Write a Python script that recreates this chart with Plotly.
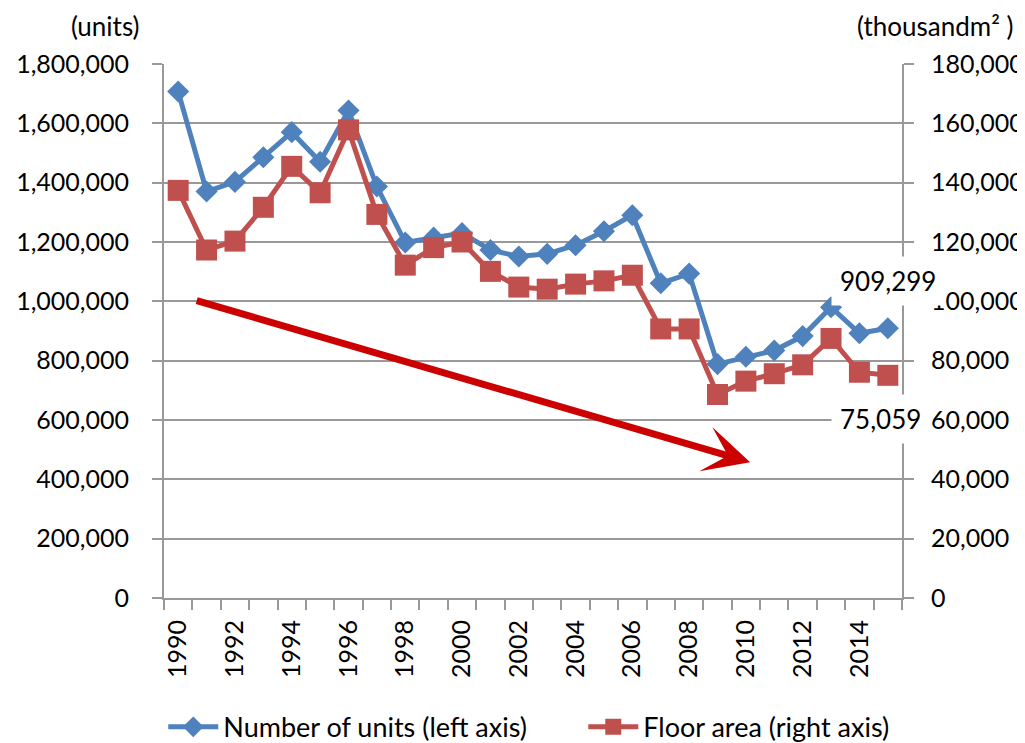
import plotly.graph_objects as go

YEARS = list(range(1990, 2016))
UNITS = [1707109, 1370126, 1402590, 1485684, 1570252, 1470330, 1643266, 1387014,
         1198295, 1214601, 1229843, 1173170, 1151016, 1160083, 1189049, 1236175,
         1290391, 1060741, 1093519, 788410, 813126, 834117, 882797, 980025,
         892261, 909299]
FLOOR_AREA = [137400, 117300, 120300, 131700, 145500, 136600, 157800, 129300,
              112200, 118100, 120000, 110100, 104800, 104100, 105800, 106900,
              108800, 90700, 90700, 68600, 73100, 75600, 78600, 87500,
              76100, 75059]
X_LABELS = list(range(1990, 2015, 2))

BLUE = "#4F81BD"
RED = "#C0504D"
GRID = "#999999"
FONT = "Lato, Open Sans, sans-serif"

fig = go.Figure()
fig.add_trace(go.Scatter(
    x=YEARS, y=UNITS, name="Number of units (left axis)", mode="lines+markers",
    line=dict(color=BLUE, width=5),
    marker=dict(symbol="diamond", size=17, color=BLUE),
))
fig.add_trace(go.Scatter(
    x=YEARS, y=FLOOR_AREA, name="Floor area (right axis)", mode="lines+markers",
    yaxis="y2",
    line=dict(color=RED, width=5),
    marker=dict(symbol="square", size=21, color=RED),
))

# downward trend arrow
fig.add_annotation(
    x=2010.15, y=458000, ax=1990.6, ay=1004000, xref="x", yref="y", axref="x", ayref="y",
    text="", showarrow=True, arrowhead=3, arrowsize=1.1, arrowwidth=7, arrowcolor="#CC0000",
    standoff=0,
)

# data labels for the last year
fig.add_annotation(
    x=YEARS[-1], y=UNITS[-1], xref="x", yref="y", text=f"{UNITS[-1]:,}",
    showarrow=False, yshift=47, bgcolor="white", borderpad=8,
    font=dict(family=FONT, size=26, color="black"),
)
fig.add_annotation(
    x=YEARS[-1], y=FLOOR_AREA[-1], xref="x", yref="y2", text=f"{FLOOR_AREA[-1]:,}",
    showarrow=False, yshift=-44, xshift=-7, bgcolor="white", borderpad=8,
    font=dict(family=FONT, size=26, color="black"),
)

# axis unit captions
fig.add_annotation(
    x=-0.030, y=1.072, xref="paper", yref="paper", text="(units)", showarrow=False,
    xanchor="right", yanchor="middle", font=dict(family=FONT, size=26, color="black"),
)
fig.add_annotation(
    x=1.153, y=1.072, xref="paper", yref="paper", text="(thousandm² )",
    showarrow=False, xanchor="right", yanchor="middle",
    font=dict(family=FONT, size=26, color="black"),
)

# page body adds an 8px margin, so the figure is 8px smaller and shifted
fig.update_layout(
    width=1017, height=735,
    margin=dict(l=156, r=123, t=56, b=145, autoexpand=False),
    plot_bgcolor="white", paper_bgcolor="white",
    font=dict(family=FONT, size=25, color="black"),
    showlegend=True,
    legend=dict(orientation="h", x=-0.001, y=-0.242, xanchor="left", yanchor="middle",
                itemwidth=50, entrywidth=355, font=dict(size=27)),
    xaxis=dict(
        range=[1989.5, 2015.5], tickmode="array", tickvals=X_LABELS,
        ticktext=[str(v) for v in X_LABELS], tickangle=-90, ticks="",
        ticklabelstandoff=10, showgrid=False, zeroline=False,
        showline=True, linecolor=GRID, linewidth=2,
        minor=dict(tickmode="linear", tick0=1989.5, dtick=1, ticks="outside",
                   ticklen=10, tickwidth=2, tickcolor=GRID, showgrid=False),
    ),
    yaxis=dict(
        range=[0, 1800000], dtick=200000, tickformat=",d",
        showgrid=True, gridcolor=GRID, gridwidth=2, zeroline=False,
        showline=True, linecolor=GRID, linewidth=2,
        ticks="outside", ticklen=10, tickwidth=2, tickcolor=GRID,
        ticklabelstandoff=18,
    ),
    yaxis2=dict(
        range=[0, 180000], dtick=20000, tickformat=",d", overlaying="y", side="right",
        showgrid=False, zeroline=False,
        showline=True, linecolor=GRID, linewidth=2,
        ticks="outside", ticklen=10, tickwidth=2, tickcolor=GRID,
        ticklabelstandoff=12,
    ),
)

fig.write_html("out.html")
